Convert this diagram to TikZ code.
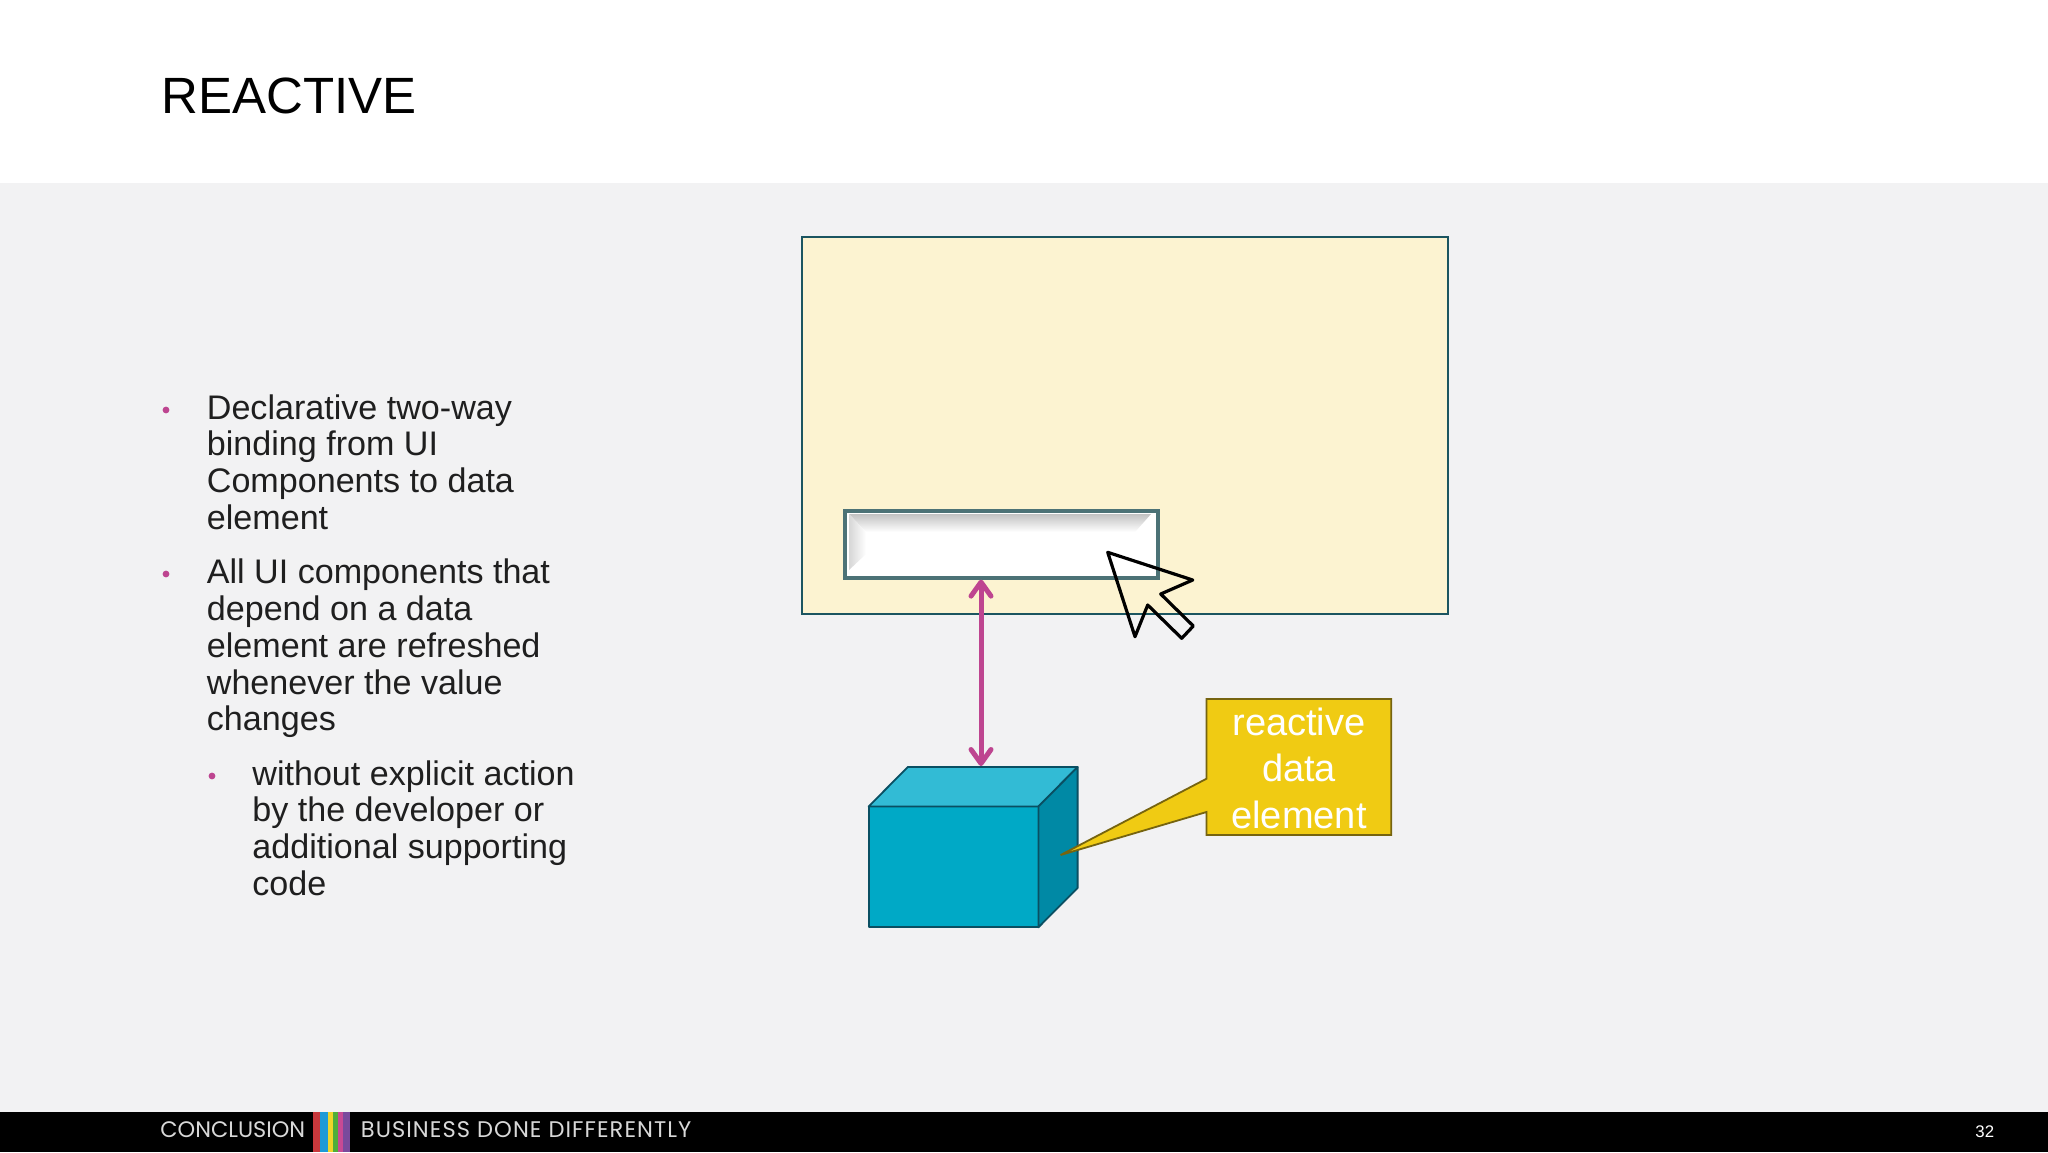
\documentclass[tikz,border=0pt]{standalone}
\usepackage{fontspec}
\setmainfont{Liberation Sans}
\newfontfamily\footfont{Poppins}
\newfontfamily\footwide{Poppins}[LetterSpace=4.6]
\usetikzlibrary{arrows.meta}
\definecolor{pagebg}{HTML}{F2F2F3}
\definecolor{framefill}{HTML}{FCF3D1}
\definecolor{frameline}{HTML}{1B5560}
\definecolor{fieldline}{HTML}{4C7276}
\definecolor{magentaline}{HTML}{BE4590}
\definecolor{cubefront}{HTML}{00A9C6}
\definecolor{cubetop}{HTML}{32BBD5}
\definecolor{cubeside}{HTML}{0089A5}
\definecolor{cubeline}{HTML}{0A4F62}
\definecolor{calloutfill}{HTML}{F0CB13}
\definecolor{calloutline}{HTML}{76640F}
\definecolor{footgrey}{HTML}{D8D8D8}
\definecolor{stripered}{HTML}{C8383C}
\definecolor{stripeblue}{HTML}{1E9AD6}
\definecolor{stripeyellow}{HTML}{EFD52A}
\definecolor{stripegreen}{HTML}{4FAE3A}
\definecolor{stripepink}{HTML}{C84A94}
\definecolor{stripepurple}{HTML}{7A4A9C}
\tikzset{
  body/.style={anchor=north west,inner sep=0pt,align=left,font=\fontsize{17.05}{18.35}\selectfont,text=black!88},
  dotmark/.style={circle,fill=magentaline,inner sep=0pt,minimum size=3.4pt},
  foottext/.style={anchor=base west,inner sep=0pt,text=footgrey},
  calloutword/.style={anchor=base,inner sep=0pt,text=white,font=\fontsize{19}{23}\selectfont},
  cubeface/.style={draw=cubeline,line width=0.9pt,line join=round},
  bind/.style={draw=magentaline,line width=2.5pt,{Straight Barb[length=7pt,width=10pt,round]}-{Straight Barb[length=7pt,width=10pt,round]}}
}
\begin{document}
\begin{tikzpicture}[x=0.5pt,y=-0.5pt]
\useasboundingbox (0,0) rectangle (2048,1152);
\fill[white] (0,0) rectangle (2048,183);
\fill[pagebg] (0,183) rectangle (2048,1112);
\fill[black] (0,1112) rectangle (2048,1152);
\node[anchor=base west,inner sep=0pt,font=\fontsize{25.5}{30}\selectfont] (title) at (161,113) {REACTIVE};
% body text
\node[dotmark] (b1) at (166,410) {};
\node[body] (t1) at (206.5,394) {Declarative two-way\\binding from UI\\Components to data\\element};
\node[dotmark] (b2) at (166,574) {};
\node[body] (t2) at (206.5,558.8) {All UI components that\\depend on a data\\element are refreshed\\whenever the value\\changes};
\node[dotmark] (b3) at (212,776) {};
\node[body] (t3) at (252,760) {without explicit action\\by the developer or\\additional supporting\\code};
% window
\node[draw=frameline,fill=framefill,line width=1pt,inner sep=0pt,minimum width=323pt,minimum height=188.5pt,anchor=north west] (frame) at (801,236) {};
% text field
\node[fill=white,inner sep=0pt,minimum width=156.6pt,minimum height=33.4pt,anchor=north west] (field) at (843,509) {};
\shade[top color=black!24,bottom color=white] (849,514) -- (1151,514) -- (1135,532) -- (866,532) -- cycle;
\shade[left color=black!16,right color=white] (849,514) -- (866,532) -- (866,554) -- (849,570) -- cycle;
\node[draw=fieldline,line width=1.9pt,inner sep=0pt,minimum width=156.6pt,minimum height=33.4pt,anchor=north west] (fieldedge) at (843,509) {};
% cursor
\draw[black,line width=1.6pt,line join=round] (1107.7,552.3) -- (1192.7,580) -- (1160.7,594) -- (1193.3,626) -- (1181.7,638.3) -- (1147.7,605) -- (1135,636.7) -- cycle;
% cube
\filldraw[cubeface,fill=cubefront] (868.6,806.5) rectangle (1038.4,927.3);
\filldraw[cubeface,fill=cubetop] (868.6,806.5) -- (907.8,767) -- (1077.6,767) -- (1038.4,806.5) -- cycle;
\filldraw[cubeface,fill=cubeside] (1038.4,806.5) -- (1077.6,767) -- (1077.6,888) -- (1038.4,927.3) -- cycle;
% binding arrow
\coordinate (fieldpoint) at (fieldedge.south -| 981,0);
\coordinate (cubepoint) at (981,766);
\draw[bind] (fieldpoint) -- (cubepoint);
% callout
\node[inner sep=0pt,minimum width=92pt,minimum height=67.6pt,anchor=north west] (callout) at (1206.5,699) {};
\coordinate (calloutTip) at (1060.6,855);
\filldraw[draw=calloutline,fill=calloutfill,line width=0.9pt,line join=miter] (callout.north west) -- (callout.north east) -- (callout.south east) -- (callout.south west) -- (1206.5,812) -- (calloutTip) -- (1206.5,778.7) -- cycle;
\node[calloutword] (c1) at (1299,735.5) {reactive};
\node[calloutword] (c2) at (1299,781.5) {data};
\node[calloutword] (c3) at (1299,828) {element};
% footer
\node[foottext,font=\footfont\fontsize{11.2}{13}\selectfont] (f1) at (160,1137) {CONCLUSION};
\fill[stripered] (313,1112) rectangle (320,1152);
\fill[stripeblue] (320,1112) rectangle (328,1152);
\fill[stripeyellow] (328,1112) rectangle (333,1152);
\fill[stripegreen] (333,1112) rectangle (338,1152);
\fill[stripepink] (338,1112) rectangle (343,1152);
\fill[stripepurple] (343,1112) rectangle (350,1152);
\node[foottext,font=\footwide\fontsize{11.3}{13}\selectfont] (f2) at (360.5,1137) {BUSINESS DONE DIFFERENTLY};
\node[foottext,text=white,font=\fontsize{8.4}{10}\selectfont] (pg) at (1975,1137) {32};
\end{tikzpicture}
\end{document}
